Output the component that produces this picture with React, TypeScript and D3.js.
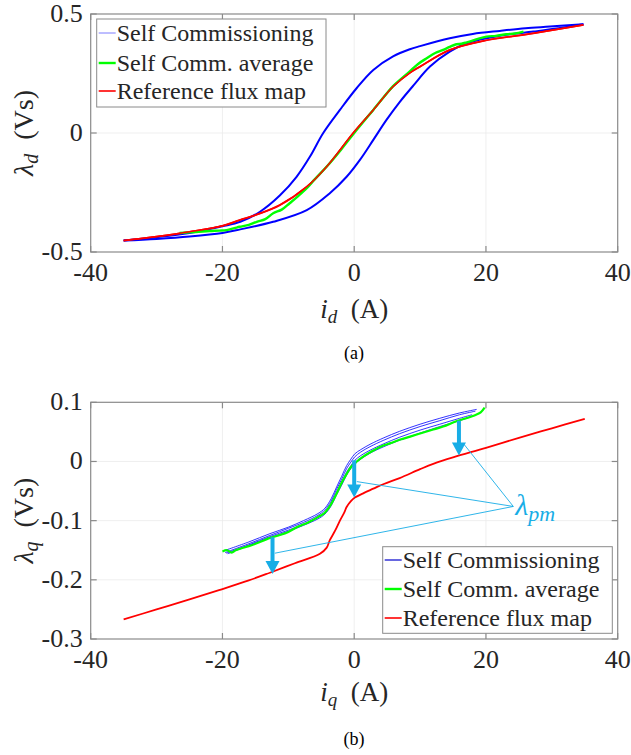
import React from 'react';
import * as d3 from 'd3';

// shared x axis
const xTicks = [-40, -20, 0, 20, 40];
const xTickLabels = ['-40', '-20', '0', '20', '40'];

// ---- (a) d-axis
const dYTicks = [-0.5, 0, 0.5];
const dYTickLabels = ['-0.5', '0', '0.5'];

const dBlueUpX = [-35, -30, -25, -20, -17.3, -14.3, -11.3, -8.75, -6.73, -4.7, -2.17, 0.36, 2.9, 5.9, 8.45, 10, 14.5, 18, 22.1, 26, 29.7, 34.8];
const dBlueUpY = [-0.452, -0.438, -0.42, -0.392, -0.373, -0.331, -0.263, -0.184, -0.1, 0.0, 0.097, 0.188, 0.265, 0.322, 0.352, 0.365, 0.398, 0.416, 0.429, 0.44, 0.447, 0.457];
const dBlueLowX = [-35, -30, -25, -20, -17.3, -12.3, -7.2, -3.7, -1.15, 0.87, 2.9, 4.9, 6.9, 9, 11.5, 14.5, 17.1, 22.1, 27.2, 31, 34.8];
const dBlueLowY = [-0.452, -0.445, -0.435, -0.42, -0.405, -0.373, -0.324, -0.253, -0.184, -0.113, -0.029, 0.055, 0.13, 0.2, 0.279, 0.342, 0.377, 0.409, 0.426, 0.44, 0.457];
const dGreenX = [-26.5, -24, -22, -20.5, -19.4, -18.2, -17.4, -16, -14.8, -13.5, -12.3, -11, -9.8, -8.5, -7.2, -6, -4.2, -2, 0, 2.9, 5.9, 6.9, 8.4, 9.7, 11, 12.3, 13.5, 14.5, 15.5, 16.3, 17.1, 18.5, 20.1, 21.5, 23.1, 24.4, 25.7];
const dGreenY = [-0.42, -0.416, -0.412, -0.41, -0.408, -0.4, -0.394, -0.386, -0.373, -0.362, -0.337, -0.322, -0.295, -0.265, -0.232, -0.195, -0.142, -0.07, 0.0, 0.097, 0.197, 0.222, 0.258, 0.29, 0.314, 0.336, 0.349, 0.362, 0.373, 0.375, 0.381, 0.393, 0.405, 0.408, 0.415, 0.418, 0.426];
const dRedX = [-35, -30, -25, -20, -17.4, -14.8, -11.3, -7.2, -4.2, -0.15, 2.9, 5.9, 8.45, 10, 14.5, 19.6, 27.2, 34.8];
const dRedY = [-0.452, -0.435, -0.415, -0.39, -0.366, -0.343, -0.303, -0.226, -0.142, 0.0, 0.097, 0.195, 0.253, 0.279, 0.349, 0.387, 0.419, 0.454];

// ---- (b) q-axis
const qYTicks = [-0.3, -0.2, -0.1, 0, 0.1];
const qYTickLabels = ['-0.3', '-0.2', '-0.1', '0', '0.1'];

const qBlue1X = [-19.8, -16, -12.8, -10, -7.7, -5.5, -4.45, -3.5, -2.67, -1.9, -1.15, -0.5, 0.1, 1, 2.4, 4.5, 6.9, 10, 13, 16, 18.6];
const qBlue1Y = [-0.151, -0.136, -0.122, -0.111, -0.1, -0.088, -0.079, -0.063, -0.043, -0.025, -0.007, 0.004, 0.013, 0.02, 0.029, 0.04, 0.051, 0.063, 0.073, 0.082, 0.088];
const qBlue2X = [-19.6, -16, -12.8, -10, -7.7, -5.5, -4.45, -3.5, -2.67, -1.9, -1.15, -0.5, 0.1, 1, 2.4, 4.5, 6.9, 10, 13, 16, 18.4];
const qBlue2Y = [-0.154, -0.139, -0.125, -0.113, -0.103, -0.091, -0.082, -0.067, -0.047, -0.03, -0.012, -0.001, 0.008, 0.016, 0.025, 0.036, 0.047, 0.059, 0.069, 0.079, 0.085];
const qBlue3X = [-19.4, -16, -12.8, -10, -7.7, -5.5, -4.45, -3.5, -2.67, -1.9, -1.15, -0.5, 0.1, 1, 2.4, 4.5, 6.9, 10, 13, 16, 17.9];
const qBlue3Y = [-0.155, -0.141, -0.127, -0.116, -0.106, -0.094, -0.086, -0.071, -0.052, -0.035, -0.018, -0.007, 0.002, 0.01, 0.019, 0.03, 0.041, 0.053, 0.063, 0.073, 0.079];
const qBlue4X = [-19.2, -16, -12.8, -10, -7.7, -5.5, -4.45, -3.5, -2.67, -1.9, -1.15, -0.5, 0.1, 1, 2.4, 4.5, 6.9, 10, 13, 16, 17.6];
const qBlue4Y = [-0.156, -0.142, -0.129, -0.118, -0.108, -0.097, -0.089, -0.075, -0.056, -0.04, -0.023, -0.012, -0.004, 0.004, 0.014, 0.025, 0.036, 0.048, 0.059, 0.069, 0.075];
const qGreenX = [-20, -19.3, -18.6, -18, -17.2, -16, -14.5, -13, -11.5, -10, -8.5, -7, -5.5, -4.5, -3.5, -2.7, -1.9, -1.1, -0.4, 0.3, 1.2, 2.5, 4, 5.5, 7, 8.5, 10.5, 12, 13.5, 15.5, 17, 18.5, 19.2, 19.8];
const qGreenY = [-0.152, -0.15, -0.154, -0.15, -0.147, -0.143, -0.137, -0.13, -0.125, -0.119, -0.11, -0.103, -0.094, -0.087, -0.072, -0.055, -0.036, -0.02, -0.008, -0.001, 0.007, 0.016, 0.025, 0.031, 0.037, 0.042, 0.049, 0.054, 0.059, 0.068, 0.073, 0.079, 0.083, 0.091];
const qRedX = [-35, -30, -25, -20.4, -16, -12.8, -9, -5.2, -4.2, -3.7, -2.9, -2.17, -1.5, -1.15, -0.5, 0.1, 1.5, 2.9, 4.5, 6.9, 10, 12, 15, 20, 25, 30, 35];
const qRedY = [-0.267, -0.25, -0.233, -0.217, -0.201, -0.188, -0.172, -0.156, -0.146, -0.133, -0.117, -0.1, -0.086, -0.077, -0.067, -0.061, -0.053, -0.046, -0.038, -0.028, -0.013, -0.004, 0.007, 0.023, 0.04, 0.056, 0.072];

// lambda_pm annotation
const arrowX = [-12.4, 0, 15.9];
const arrowFrom = [-0.128, 0.002, 0.069];
const arrowTo = [-0.19, -0.061, 0.01];
const pmLabel = [24.15, -0.076];
const pmTargetX = [-12.05, 0.4, 16.6];
const pmTargetY = [-0.155, -0.034, 0.03];

const legendLabels = ['Self Commissioning', 'Self Comm. average', 'Reference flux map'];

const FONT = 'Liberation Serif';
const TXT = '#262626';
const BOX = '#8a8a8a';
const CYAN = '#17ade6';
const LEFT = 90.7;
const RIGHT = 617.7;

type Series = { x: number[]; y: number[]; color: string; width: number };

const x = d3.scaleLinear().domain([-40, 40]).range([LEFT, RIGHT]);

function zip(xs: number[], ys: number[]): [number, number][] {
  return xs.map((v, i) => [v, ys[i]]);
}

function Legend({ bx, by, bw, bh, rows, sample }: { bx: number; by: number; bw: number; bh: number; rows: number[]; sample: Series[] }) {
  return (
    <g>
      <rect x={bx} y={by} width={bw} height={bh} fill="#fff" stroke={BOX} strokeWidth={1} />
      {legendLabels.map((l, i) => (
        <g key={l}>
          <line x1={bx + 2} x2={bx + 19} y1={rows[i]} y2={rows[i]} stroke={sample[i].color} strokeWidth={sample[i].width} />
          <text x={bx + 20} y={rows[i] + 8} fontSize={24} fontFamily={FONT} fill={TXT}>{l}</text>
        </g>
      ))}
    </g>
  );
}

function Panel({ top, bottom, yDomain, yTicks, yTickLabels, series, sub, xBase, children }: any) {
  const y = d3.scaleLinear().domain(yDomain).range([bottom, top]);
  const line = d3.line<[number, number]>().x(d => x(d[0])).y(d => y(d[1])).curve(d3.curveCatmullRom);
  const tk = 6;
  return (
    <g>
      {/* grid */}
      {xTicks.slice(1, -1).map(t => (
        <line key={'gx' + t} x1={x(t)} x2={x(t)} y1={top} y2={bottom} stroke="#ebebeb" strokeWidth={0.8} />
      ))}
      {yTicks.slice(1, -1).map((t: number) => (
        <line key={'gy' + t} x1={LEFT} x2={RIGHT} y1={y(t)} y2={y(t)} stroke="#ebebeb" strokeWidth={0.8} />
      ))}
      {/* data */}
      {series.map((s: Series, i: number) => (
        <path key={i} d={line(zip(s.x, s.y)) || ''} fill="none" stroke={s.color} strokeWidth={s.width} strokeLinejoin="round" />
      ))}
      {children && children(y)}
      {/* box and ticks */}
      <rect x={LEFT} y={top} width={RIGHT - LEFT} height={bottom - top} fill="none" stroke={BOX} strokeWidth={1.2} />
      {xTicks.map(t => (
        <g key={'tx' + t}>
          <line x1={x(t)} x2={x(t)} y1={bottom} y2={bottom - tk} stroke={BOX} strokeWidth={1.2} />
          <line x1={x(t)} x2={x(t)} y1={top} y2={top + tk} stroke={BOX} strokeWidth={1.2} />
        </g>
      ))}
      {yTicks.map((t: number) => (
        <g key={'ty' + t}>
          <line x1={LEFT} x2={LEFT + tk} y1={y(t)} y2={y(t)} stroke={BOX} strokeWidth={1.2} />
          <line x1={RIGHT} x2={RIGHT - tk} y1={y(t)} y2={y(t)} stroke={BOX} strokeWidth={1.2} />
        </g>
      ))}
      {/* tick labels */}
      {xTicks.map((t, i) => (
        <text key={'lx' + t} x={x(t)} y={bottom + 29} textAnchor="middle" fontSize={26} fontFamily={FONT} fill={TXT}>{xTickLabels[i]}</text>
      ))}
      {yTicks.map((t: number, i: number) => (
        <text key={'ly' + t} x={LEFT - 8} y={y(t) + 8} textAnchor="end" fontSize={26} fontFamily={FONT} fill={TXT}>{yTickLabels[i]}</text>
      ))}
      {/* axis labels */}
      <text x={(LEFT + RIGHT) / 2} y={xBase} textAnchor="middle" fontSize={27} fontFamily={FONT} fill={TXT}>
        <tspan fontStyle="italic">i</tspan>
        <tspan fontStyle="italic" fontSize={19} dy={5}>{sub}</tspan>
        <tspan dy={-5}>{'\u00a0\u00a0(A)'}</tspan>
      </text>
      <text transform={`translate(33,${(top + bottom) / 2}) rotate(-90)`} textAnchor="middle" fontSize={28} fontFamily={FONT} fill={TXT}>
        <tspan fontStyle="italic">{'\u03bb'}</tspan>
        <tspan fontStyle="italic" fontSize={20} dy={5}>{sub}</tspan>
        <tspan dy={-5}>{'\u00a0\u00a0(Vs)'}</tspan>
      </text>
    </g>
  );
}

export default function App() {
  const dSeries: Series[] = [
    { x: dBlueUpX, y: dBlueUpY, color: '#0000ff', width: 2 },
    { x: dBlueLowX, y: dBlueLowY, color: '#0000ff', width: 2 },
    { x: dRedX, y: dRedY, color: '#ff0000', width: 1.8 },
    { x: dGreenX, y: dGreenY, color: '#00ff00', width: 2.4 },
  ];
  const dRedTop: Series = { x: dRedX, y: dRedY, color: '#ff0000', width: 1.5 };
  const qSeries: Series[] = [
    { x: qRedX, y: qRedY, color: '#ff0000', width: 1.8 },
    { x: qBlue1X, y: qBlue1Y, color: '#0000ff', width: 0.8 },
    { x: qBlue2X, y: qBlue2Y, color: '#0000ff', width: 0.8 },
    { x: qBlue3X, y: qBlue3Y, color: '#0000ff', width: 0.8 },
    { x: qBlue4X, y: qBlue4Y, color: '#0000ff', width: 0.8 },
    { x: qGreenX, y: qGreenY, color: '#00ff00', width: 2.2 },
  ];

  return (
    <div style={{ position: 'absolute', left: 0, top: 0 }}>
      <svg width={631} height={755} style={{ display: 'block', background: '#fff' }}>
        <Panel top={14} bottom={252} yDomain={[-0.5, 0.5]} yTicks={dYTicks} yTickLabels={dYTickLabels}
          series={[...dSeries, dRedTop]} sub="d" xBase={318} />
        <Legend bx={96.7} by={19} bw={229.3} bh={88} rows={[33, 63, 91]}
          sample={[{ x: [], y: [], color: '#7d7dff', width: 1 }, { x: [], y: [], color: '#00ff00', width: 2.4 }, { x: [], y: [], color: '#ff0000', width: 1.6 }]} />
        <text x={354} y={359} textAnchor="middle" fontSize={18} fontFamily={FONT} fill="#000">(a)</text>

        <Panel top={402.3} bottom={639} yDomain={[-0.3, 0.1]} yTicks={qYTicks} yTickLabels={qYTickLabels}
          series={qSeries} sub="q" xBase={701}>
          {(y: any) => (
            <g>
              {pmTargetX.map((tx, i) => (
                <line key={'p' + i} x1={x(pmLabel[0])} y1={y(pmLabel[1])} x2={x(tx)} y2={y(pmTargetY[i])} stroke={CYAN} strokeWidth={0.9} />
              ))}
              {arrowX.map((ax, i) => {
                const cx = x(ax);
                const y0 = y(arrowFrom[i]);
                const y1 = y(arrowTo[i]);
                const hl = 13;
                const hw = 7;
                return (
                  <g key={'a' + i}>
                    <line x1={cx} x2={cx} y1={y0} y2={y1 - hl + 1} stroke={CYAN} strokeWidth={4} />
                    <path d={`M${cx - hw},${y1 - hl}L${cx + hw},${y1 - hl}L${cx},${y1}Z`} fill={CYAN} />
                  </g>
                );
              })}
              <text x={x(pmLabel[0]) + 2} y={y(pmLabel[1]) + 9} fontSize={30} fontFamily={FONT} fill={CYAN} fontStyle="italic">
                {'\u03bb'}
                <tspan fontSize={22} dy={6}>pm</tspan>
              </text>
            </g>
          )}
        </Panel>
        <Legend bx={382.7} by={546.7} bw={229.6} bh={86.6} rows={[560, 589, 618]}
          sample={[{ x: [], y: [], color: '#0000cc', width: 1.2 }, { x: [], y: [], color: '#00ff00', width: 2.4 }, { x: [], y: [], color: '#ff0000', width: 1.6 }]} />
        <text x={354} y={745} textAnchor="middle" fontSize={18} fontFamily={FONT} fill="#000">(b)</text>
      </svg>
    </div>
  );
}
